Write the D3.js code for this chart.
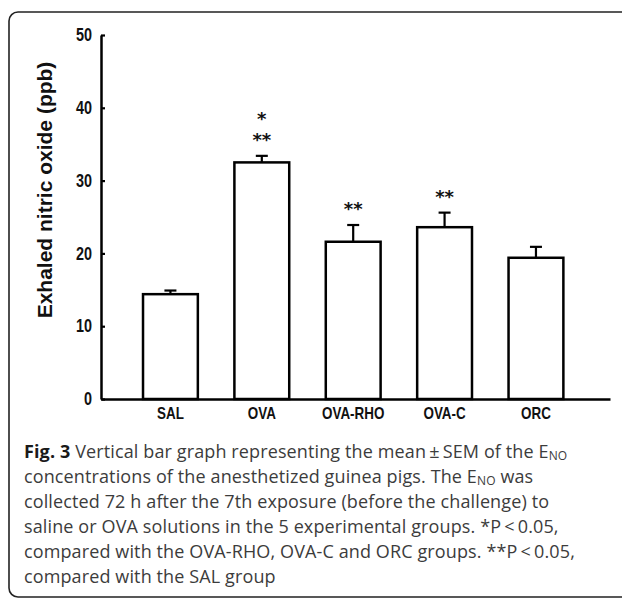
<!DOCTYPE html>
<html>
<head>
<meta charset="utf-8">
<script src="https://cdn.jsdelivr.net/npm/d3@7"></script>
<style>
  body { margin: 0; background: #fff; }
  svg { display: block; }
</style>
</head>
<body>
<svg></svg>
<script>
// group names, means and SEM
const groups = ["SAL", "OVA", "OVA-RHO", "OVA-C", "ORC"];
const means = [14.4, 32.5, 21.6, 23.6, 19.4];
const sems = [0.5, 0.9, 2.3, 2.0, 1.5];
// significance marks above each bar (top line first)
const marks = [[], ["*", "**"], ["**"], ["**"], []];
const yTicks = [0, 10, 20, 30, 40, 50];

const captionLines = [
    [["Fig. 3", "b"], [" Vertical bar graph representing the mean\u2009\u00b1\u2009SEM of the E"], ["NO", "sub"]],
    [["concentrations of the anesthetized guinea pigs. The E"], ["NO", "sub"], [" was", "up"]],
    [["collected 72 h after the 7th exposure (before the challenge) to"]],
    [["saline or OVA solutions in the 5 experimental groups. *P\u2009<\u20090.05,"]],
    [["compared with the OVA-RHO, OVA-C and ORC groups. **P\u2009<\u20090.05,"]],
    [["compared with the SAL group"]]
];

const width = 622, height = 599;
const arial = "'Liberation Sans', Arial, sans-serif";
const squeeze = 0.8; // the figure's lettering is horizontally condensed

let svg = d3.select("svg")
    .attr("width", width)
    .attr("height", height);

// rounded frame around figure + caption
svg.append("rect")
    .attr("x", 9).attr("y", 12)
    .attr("width", 700).attr("height", 585)
    .attr("rx", 9)
    .attr("fill", "none")
    .attr("stroke", "#222")
    .attr("stroke-width", 1.6);

let data = groups.map((g, i) => ({ name: g, mean: means[i], sem: sems[i], marks: marks[i] }));

let x = d3.scaleBand()
    .domain(groups)
    .range([101, 610])
    .paddingInner(0.4)
    .paddingOuter(0.485)
    .align(0.474);

let y = d3.scaleLinear()
    .domain([0, 50])
    .range([399, 35]);

const cx = d => x(d.name) + x.bandwidth() / 2;

// bars
svg.append("g")
    .selectAll("rect")
    .data(data)
    .enter()
    .append("rect")
    .attr("x", d => x(d.name))
    .attr("y", d => y(d.mean))
    .attr("width", x.bandwidth())
    .attr("height", d => y(0) - y(d.mean))
    .attr("fill", "#fff")
    .attr("stroke", "#000")
    .attr("stroke-width", 2.5);

// error bars (upper half only)
let err = svg.append("g")
    .attr("stroke", "#000")
    .attr("stroke-width", 2.2);

err.selectAll("line.stem")
    .data(data)
    .enter()
    .append("line")
    .attr("class", "stem")
    .attr("x1", cx)
    .attr("x2", cx)
    .attr("y1", d => y(d.mean))
    .attr("y2", d => y(d.mean + d.sem));

err.selectAll("line.cap")
    .data(data)
    .enter()
    .append("line")
    .attr("class", "cap")
    .attr("x1", d => cx(d) - 6)
    .attr("x2", d => cx(d) + 6)
    .attr("y1", d => y(d.mean + d.sem))
    .attr("y2", d => y(d.mean + d.sem));

// significance stars, one text per row, bottom row first
let starRows = [];
data.forEach(function(d) {
    d.marks.slice().reverse().forEach(function(m, k) {
        starRows.push({ m: m, x: cx(d), y: y(d.mean + d.sem) - 10 - k * 21 });
    });
});

svg.append("g")
    .selectAll("text")
    .data(starRows)
    .enter()
    .append("text")
    .attr("x", t => t.x)
    .attr("y", t => t.y)
    .attr("text-anchor", "middle")
    .attr("font-family", "'DejaVu Sans', sans-serif")
    .attr("font-weight", "bold")
    .attr("font-size", 18)
    .attr("fill", "#111")
    .text(t => t.m);

// y axis
let yAxis = svg.append("g")
    .attr("transform", "translate(101,0)")
    .call(d3.axisLeft(y).tickValues(yTicks).tickSizeInner(-4).tickSizeOuter(0).tickPadding(9));
yAxis.select(".domain").attr("stroke", "#000").attr("stroke-width", 2.5);
yAxis.selectAll(".tick line").attr("stroke", "#000").attr("stroke-width", 2.2);
yAxis.selectAll(".tick text")
    .attr("x", -9 / squeeze)
    .attr("transform", "scale(" + squeeze + ",1)")
    .attr("font-family", arial)
    .attr("font-weight", "bold")
    .attr("font-size", 18)
    .attr("fill", "#111");

// x axis
let xAxis = svg.append("g")
    .attr("transform", "translate(0," + y(0) + ")")
    .call(d3.axisBottom(x).tickSize(0).tickPadding(9));
xAxis.select(".domain").attr("stroke", "#000").attr("stroke-width", 2.5);
xAxis.selectAll(".tick text")
    .attr("transform", "scale(" + 0.84 + ",1)")
    .attr("font-family", arial)
    .attr("font-weight", "bold")
    .attr("font-size", 16)
    .attr("fill", "#111");

// y axis title
svg.append("text")
    .attr("transform", "translate(52,190) rotate(-90)")
    .attr("text-anchor", "middle")
    .attr("font-family", arial)
    .attr("font-weight", "bold")
    .attr("font-size", 21)
    .attr("fill", "#111")
    .text("Exhaled nitric oxide (ppb)");

// caption
let cap = svg.append("g")
    .attr("font-family", "'Open Sans', 'Noto Sans', sans-serif")
    .attr("font-size", 18)
    .attr("letter-spacing", 0.12)
    .attr("fill", "#3c3c3c");

captionLines.forEach(function(line, i) {
    let t = cap.append("text")
        .attr("x", 24)
        .attr("y", 458 + i * 25);
    line.forEach(function(part) {
        let s = t.append("tspan").text(part[0]);
        if (part[1] === "b") s.attr("font-weight", "bold").attr("fill", "#1a1a1a");
        if (part[1] === "sub") s.attr("font-size", 12).attr("dy", 2);
        if (part[1] === "up") s.attr("dy", -2);
    });
});
</script>
</body>
</html>
